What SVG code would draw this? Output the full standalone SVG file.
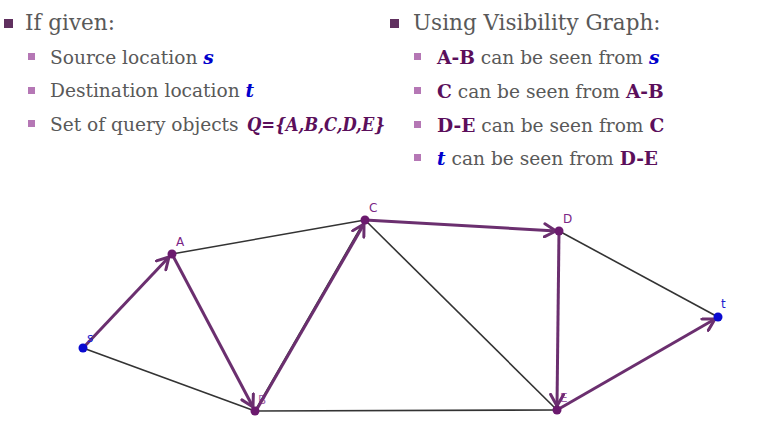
<svg xmlns="http://www.w3.org/2000/svg" width="770" height="432" viewBox="0 0 770 432">
<style>
.t{font-family:"DejaVu Serif","Liberation Serif",serif;fill:#595959}
.h{font-size:21.5px}
.s{font-size:18.6px}
.p{fill:#5b0f5b;font-weight:bold}
.pi{fill:#5b0f5b;font-weight:bold;font-style:italic}
.b{fill:#0000cc;font-weight:bold;font-style:italic}
.edge{stroke:#333;stroke-width:1.6;fill:none}
.arr{stroke:#6b2f6f;stroke-width:3;fill:none;marker-end:url(#ah)}
.nd{fill:#6b1a6e}
.nb{fill:#0a0ad0}
.lb{font-family:"DejaVu Sans",sans-serif;font-size:12px;fill:#7a2585}
.lbb{font-family:"DejaVu Sans",sans-serif;font-size:12px;fill:#1f1fd0}
</style>
<defs>
<marker id="ah" markerUnits="userSpaceOnUse" markerWidth="16" markerHeight="16" viewBox="0 0 16 16" refX="13" refY="8" orient="auto">
<path d="M1.5,1.5 L13,8 L1.5,14.5" fill="none" stroke="#6b2f6f" stroke-width="3" stroke-linecap="round" stroke-linejoin="round"/>
</marker>
</defs>
<g id="bullets">
<rect x="4" y="19" width="9" height="9" fill="#60305f"/>
<rect x="28" y="53" width="7" height="7" fill="#b577b5"/>
<rect x="28" y="87" width="7" height="7" fill="#b577b5"/>
<rect x="28" y="120" width="7" height="7" fill="#b577b5"/>
<rect x="390" y="19" width="9" height="9" fill="#60305f"/>
<rect x="414" y="53" width="7" height="7" fill="#b577b5"/>
<rect x="414" y="87" width="7" height="7" fill="#b577b5"/>
<rect x="414" y="121" width="7" height="7" fill="#b577b5"/>
<rect x="414" y="154" width="7" height="7" fill="#b577b5"/>
</g>
<g id="text-left" class="t">
<text class="h" x="25" y="30">If given:</text>
<text class="s" x="50" y="64">Source location <tspan class="b">s</tspan></text>
<text class="s" x="50" y="97">Destination location <tspan class="b">t</tspan></text>
<text class="s" x="50" y="131">Set of query objects</text>
<text class="s pi" x="247" y="131" textLength="138" lengthAdjust="spacingAndGlyphs">Q={A,B,C,D,E}</text>
</g>
<g id="text-right" class="t">
<text class="h" x="413" y="30">Using Visibility Graph:</text>
<text class="s" x="437" y="64"><tspan class="p">A-B</tspan> can be seen from <tspan class="b">s</tspan></text>
<text class="s" x="437" y="98"><tspan class="p">C</tspan> can be seen from <tspan class="p">A-B</tspan></text>
<text class="s" x="437" y="132"><tspan class="p">D-E</tspan> can be seen from <tspan class="p">C</tspan></text>
<text class="s" x="437" y="165"><tspan class="b">t</tspan> can be seen from <tspan class="p">D-E</tspan></text>
</g>
<g id="connectors">
<line class="edge" x1="172" y1="254" x2="365" y2="220"/>
<line class="edge" x1="83" y1="348" x2="255" y2="411"/>
<line class="edge" x1="255" y1="411" x2="557" y2="410"/>
<line class="edge" x1="365" y1="220" x2="557" y2="410"/>
<line class="edge" x1="559" y1="231" x2="718" y2="317"/>
<line class="edge" x1="255" y1="411" x2="365" y2="220"/>
<line class="arr" x1="83" y1="348" x2="169" y2="257"/>
<line class="arr" x1="172" y1="254" x2="253" y2="407"/>
<line class="arr" x1="257" y1="409" x2="364" y2="224"/>
<line class="arr" x1="365" y1="220" x2="556" y2="231"/>
<line class="arr" x1="559" y1="231" x2="557" y2="406"/>
<line class="arr" x1="557" y1="410" x2="715" y2="319"/>
</g>
<g id="node-s"><circle class="nb" cx="83" cy="348" r="4.5"/><text class="lbb" x="87" y="342">s</text></g>
<g id="node-A"><circle class="nd" cx="172" cy="254" r="4.5"/><text class="lb" x="176" y="246">A</text></g>
<g id="node-B"><circle class="nd" cx="255" cy="411" r="4.5"/><text class="lb" x="258" y="404" opacity="0.7">B</text></g>
<g id="node-C"><circle class="nd" cx="365" cy="220" r="4.5"/><text class="lb" x="369" y="212">C</text></g>
<g id="node-D"><circle class="nd" cx="559" cy="231" r="4.5"/><text class="lb" x="563" y="223">D</text></g>
<g id="node-E"><circle class="nd" cx="557" cy="410" r="4.5"/><text class="lb" x="560" y="402" opacity="0.7">E</text></g>
<g id="node-t"><circle class="nb" cx="718" cy="317" r="4.5"/><text class="lbb" x="721" y="308">t</text></g>
</svg>
